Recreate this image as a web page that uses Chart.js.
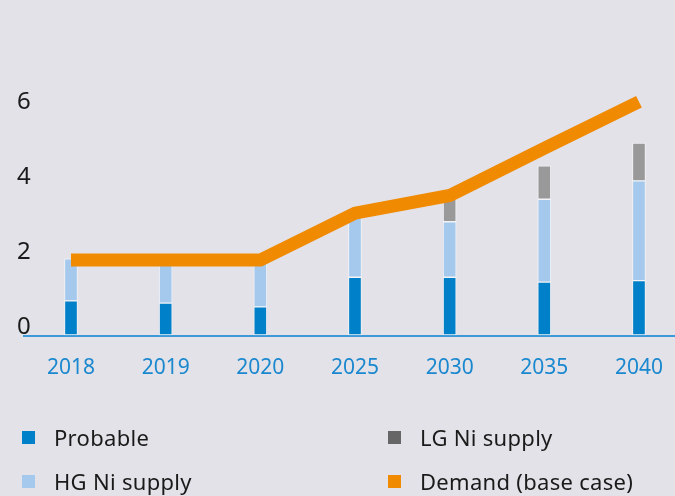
<!DOCTYPE html>
<html>
<head>
<meta charset="utf-8">
<script src="https://cdn.jsdelivr.net/npm/chart.js@4/dist/chart.umd.min.js"></script>
<style>
  html, body { margin: 0; padding: 0; background: #e3e2e8; }
  #wrap { position: relative; width: 675px; height: 496px; overflow: hidden; }
  #box { position: absolute; left: 0; top: 0; width: 675px; height: 400px; }
  #legend { position: absolute; left: 0; top: 0; width: 675px; height: 496px; pointer-events: none; }
  .item { position: absolute; display: flex; align-items: center; font: 22px "Noto Sans", sans-serif; letter-spacing: 0.3px; color: #1a1a1a; white-space: nowrap; }
  .item span.sw { width: 13px; height: 13px; margin-right: 19px; }
</style>
</head>
<body>
<div id="wrap">
  <div id="box"><canvas id="chart"></canvas></div>
  <div id="legend"></div>
</div>
<script>
"use strict";

const years = ['2018', '2019', '2020', '2025', '2030', '2035', '2040'];
const probable = [0.91, 0.85, 0.75, 1.54, 1.54, 1.41, 1.45];
const hgSupply = [1.12, 1.10, 1.20, 1.60, 1.48, 2.21, 2.66];
const lgSupply = [0, 0, 0, 0, 0.60, 0.89, 1.01];
const demand = [2.0, 2.0, 2.0, 3.25, 3.72, 4.98, 6.22];
const yTicks = [0, 2, 4, 6];

(() => {
  const canvas = document.getElementById('chart');

  // axis line runs past the plot on both sides, like the original
  const baseLine = {
    id: 'baseLine',
    beforeDatasetsDraw(chart) {
      const { ctx, chartArea, width } = chart;
      ctx.save();
      ctx.strokeStyle = '#3d9ad8';
      ctx.lineWidth = 2;
      ctx.beginPath();
      ctx.moveTo(chartArea.left - 48, chartArea.bottom + 1);
      ctx.lineTo(width, chartArea.bottom + 1);
      ctx.stroke();
      ctx.restore();
    }
  };

  const barStyle = {
    type: 'bar',
    stack: 'supply',
    barThickness: 13,
    borderWidth: 1,
    borderColor: 'rgba(245,246,250,0.8)',
    borderSkipped: false,
    clip: false,
    order: 1
  };

  const config = {
    data: {
      labels: years,
      datasets: [
        { ...barStyle, label: 'Probable', data: probable, backgroundColor: '#0080c8', legendColor: '#0080c8' },
        { ...barStyle, label: 'HG Ni supply', data: hgSupply, backgroundColor: '#a5c9ec', legendColor: '#a5c9ec' },
        { ...barStyle, label: 'LG Ni supply', data: lgSupply, backgroundColor: '#999999', legendColor: '#666666' },
        {
          type: 'line',
          label: 'Demand (base case)',
          data: demand,
          stack: 'demand',
          borderColor: '#f08a00',
          backgroundColor: '#f08a00',
          legendColor: '#f08a00',
          borderWidth: 13,
          borderCapStyle: 'butt',
          borderJoinStyle: 'miter',
          pointRadius: 0,
          tension: 0,
          clip: false,
          order: 0
        }
      ]
    },
    options: {
      responsive: true,
      maintainAspectRatio: false,
      animation: false,
      layout: { padding: { top: 110, left: 17, right: 32, bottom: 0 } },
      plugins: {
        legend: { display: false },
        tooltip: { enabled: false }
      },
      scales: {
        x: {
          stacked: true,
          offset: false,
          grid: { display: false },
          border: { display: false },
          afterFit: (scale) => { scale.height = 65; },
          ticks: {
            color: '#1a88cf',
            font: { family: 'Noto Sans', size: 21 },
            padding: 12,
            maxRotation: 0
          }
        },
        y: {
          stacked: true,
          min: 0,
          max: 6,
          grid: { display: false },
          border: { display: false },
          afterFit: (scale) => { scale.width = 54; },
          afterBuildTicks: (scale) => { scale.ticks = yTicks.map(v => ({ value: v })); },
          ticks: {
            color: '#1a1a1a',
            font: { family: 'Noto Sans', size: 24 },
            crossAlign: 'far',
            labelOffset: -8,
            padding: 0
          }
        }
      }
    },
    plugins: [baseLine]
  };

  const chart = new Chart(canvas, config);

  // two-column legend below the chart
  const legend = document.getElementById('legend');
  const spots = [[22, 437], [22, 481], [388, 437], [388, 481]];
  chart.data.datasets.forEach((ds, i) => {
    const el = document.createElement('div');
    el.className = 'item';
    el.style.left = spots[i][0] + 'px';
    el.style.top = (spots[i][1] - 15) + 'px';
    el.innerHTML = '<span class="sw" style="background:' + ds.legendColor + '"></span>' + ds.label;
    legend.appendChild(el);
  });
})();
</script>
</body>
</html>
